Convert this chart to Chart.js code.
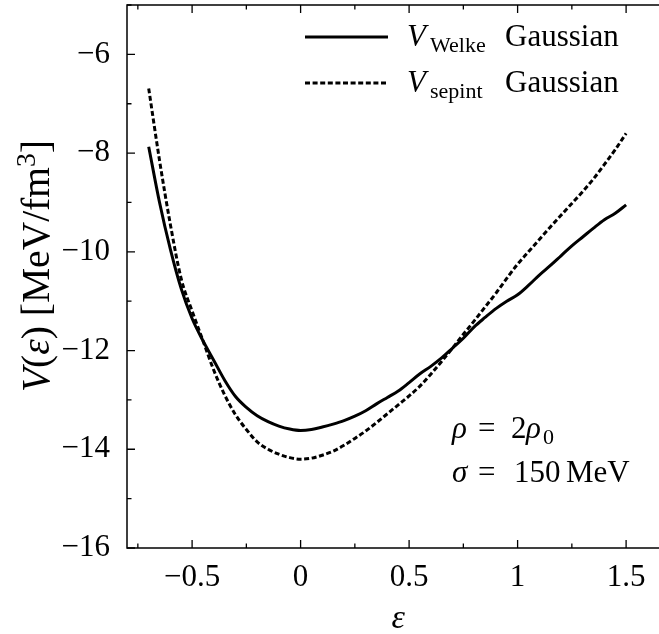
<!DOCTYPE html>
<html>
<head>
<meta charset="utf-8">
<script src="https://cdn.jsdelivr.net/npm/chart.js@4.4.1/dist/chart.umd.min.js"></script>
<style>
html,body{margin:0;padding:0;background:#fff;overflow:hidden;}
#wrap{width:672px;height:634px;}
</style>
</head>
<body>
<div id="wrap"><canvas id="c" width="672" height="634"></canvas></div>
<script>
// ---- data ----
const eps = [-0.7,-0.65,-0.6,-0.55,-0.5,-0.45,-0.4,-0.35,-0.3,-0.25,-0.2,-0.15,-0.1,-0.05,0,0.05,0.1,0.15,0.2,0.25,0.3,0.35,0.4,0.45,0.5,0.55,0.6,0.65,0.7,0.75,0.8,0.85,0.9,0.95,1.0,1.05,1.1,1.15,1.2,1.25,1.3,1.35,1.4,1.45,1.5];
const vWelke = [-7.87,-9.0,-9.95,-10.75,-11.35,-11.8,-12.2,-12.6,-12.93,-13.15,-13.32,-13.44,-13.53,-13.59,-13.62,-13.6,-13.55,-13.49,-13.42,-13.33,-13.22,-13.08,-12.95,-12.82,-12.65,-12.47,-12.32,-12.15,-11.95,-11.75,-11.52,-11.33,-11.15,-11.0,-10.87,-10.68,-10.47,-10.28,-10.08,-9.88,-9.7,-9.52,-9.35,-9.22,-9.05];
const vSepint = [-6.69,-8.15,-9.45,-10.55,-11.2,-11.8,-12.4,-12.9,-13.3,-13.6,-13.85,-14.0,-14.1,-14.17,-14.2,-14.18,-14.12,-14.04,-13.92,-13.78,-13.63,-13.46,-13.28,-13.1,-12.92,-12.72,-12.48,-12.22,-11.95,-11.67,-11.4,-11.12,-10.84,-10.54,-10.25,-10.0,-9.75,-9.5,-9.26,-9.02,-8.78,-8.52,-8.23,-7.93,-7.6];
const xTicks = [-0.5, 0, 0.5, 1, 1.5];
const xMinor = [-0.75, -0.25, 0.25, 0.75, 1.25];
const yTicks = [-16, -14, -12, -10, -8, -6];
const yMinor = [-15, -13, -11, -9, -7, -5];
const seriesNames = ['Welke', 'sepint'];

const SERIF = '"Liberation Serif", "DejaVu Serif", serif';
const FS = 31;

function fmt(v){ return (v < 0 ? '\u2212' : '') + String(Math.abs(v)); }

// runs: [{t, font, x (optional absolute), dy}]
function drawRuns(ctx, x, y, runs){
  let cx = x;
  for (const r of runs){
    if (r.x !== undefined) cx = r.x;
    ctx.font = r.font;
    ctx.fillText(r.t, cx, y + (r.dy || 0));
    cx += ctx.measureText(r.t).width;
  }
  return cx;
}
function runsWidth(ctx, runs){
  let w = 0;
  for (const r of runs){ ctx.font = r.font; w += ctx.measureText(r.t).width; }
  return w;
}

const framePlugin = {
  id: 'frame',
  afterDatasetsDraw(chart){
    const ctx = chart.ctx;
    const a = chart.chartArea;
    const xs = chart.scales.x, ys = chart.scales.y;
    ctx.save();
    ctx.strokeStyle = '#000';
    ctx.lineWidth = 1.5;
    ctx.strokeRect(a.left, a.top, a.right - a.left, a.bottom - a.top);
    ctx.lineWidth = 1.3;
    ctx.beginPath();
    const tick = (vals, len) => {
      for (const v of vals){
        const px = xs.getPixelForValue(v);
        ctx.moveTo(px, a.bottom); ctx.lineTo(px, a.bottom - len);
        ctx.moveTo(px, a.top); ctx.lineTo(px, a.top + len);
      }
    };
    tick(xTicks, 8); tick(xMinor, 4.5);
    const ytick = (vals, len) => {
      for (const v of vals){
        const py = ys.getPixelForValue(v);
        ctx.moveTo(a.left, py); ctx.lineTo(a.left + len, py);
        ctx.moveTo(a.right, py); ctx.lineTo(a.right - len, py);
      }
    };
    ytick(yTicks, 8); ytick(yMinor, 4.5);
    ctx.stroke();

    // legend
    ctx.fillStyle = '#000';
    ctx.textBaseline = 'alphabetic';
    ctx.lineWidth = 3;
    ctx.beginPath(); ctx.setLineDash([]);
    ctx.moveTo(305, 37); ctx.lineTo(388, 37); ctx.stroke();
    ctx.beginPath(); ctx.setLineDash([5, 2.6]);
    ctx.moveTo(305, 83); ctx.lineTo(388, 83); ctx.stroke();
    ctx.setLineDash([]);
    const it = 'italic ' + FS + 'px ' + SERIF;
    const rm = FS + 'px ' + SERIF;
    const sub = '22px ' + SERIF;
    drawRuns(ctx, 407, 46, [{t:'V', font:it},{t:seriesNames[0], font:sub, dy:6, x:430},{t:'Gaussian', font:rm, x:505}]);
    drawRuns(ctx, 407, 92, [{t:'V', font:it},{t:seriesNames[1], font:sub, dy:6, x:430},{t:'Gaussian', font:rm, x:505}]);

    // annotations
    drawRuns(ctx, 452, 438, [{t:'\u03C1', font:it},{t:'=', font:rm, x:478},{t:'2', font:rm, x:511},{t:'\u03C1', font:it, x:526},{t:'0', font:sub, dy:6, x:543}]);
    drawRuns(ctx, 452, 482, [{t:'\u03C3', font:it},{t:'=', font:rm, x:478},{t:'150', font:rm, x:514},{t:'MeV', font:rm, x:566}]);

    // x title
    ctx.font = 'italic 34px ' + SERIF;
    ctx.textAlign = 'center';
    ctx.fillText('\u03B5', (a.left + a.right) / 2, 628);
    ctx.textAlign = 'left';

    // y title (rotated), fitted to the span of the reference label
    const base = 100;
    const mk = s => [{t:'V', font:'italic '+s+'px '+SERIF},{t:'(', font:s+'px '+SERIF},{t:'\u03B5', font:'italic '+s+'px '+SERIF},{t:') [MeV/fm', font:s+'px '+SERIF},{t:'3', font:(s*0.7)+'px '+SERIF, dy:-s*0.36},{t:']', font:s+'px '+SERIF}];
    const w100 = runsWidth(ctx, mk(base));
    const s = base * 252 / w100;
    ctx.translate(49, 392);
    ctx.rotate(-Math.PI/2);
    drawRuns(ctx, 0, 0, mk(s));
    ctx.restore();
  }
};

new Chart(document.getElementById('c'), {
  type: 'line',
  data: {
    datasets: [
      { label: 'V_Welke Gaussian', data: eps.map((x,i)=>({x, y:vWelke[i]})),
        borderColor: '#000', borderWidth: 3, pointRadius: 0, fill: false,
        cubicInterpolationMode: 'monotone' },
      { label: 'V_sepint Gaussian', data: eps.map((x,i)=>({x, y:vSepint[i]})),
        borderColor: '#000', borderWidth: 3, borderDash: [5, 2.6], pointRadius: 0, fill: false,
        cubicInterpolationMode: 'monotone' }
    ]
  },
  options: {
    responsive: false,
    animation: false,
    layout: { padding: { top: 5, right: 2.5, left: 0, bottom: 0 } },
    plugins: { legend: { display: false }, tooltip: { enabled: false } },
    scales: {
      x: {
        type: 'linear', min: -0.8, max: 1.7,
        grid: { display: false, drawTicks: false },
        border: { display: false },
        afterBuildTicks: s => { s.ticks = xTicks.map(v => ({ value: v })); },
        afterFit: s => { s.height = 86; s.paddingLeft = 0; s.paddingRight = 0; s.paddingTop = 0; s.paddingBottom = 0; },
        ticks: { autoSkip: false, maxRotation: 0, color: '#000', padding: 11,
          font: { family: SERIF, size: FS }, callback: v => fmt(v) }
      },
      y: {
        type: 'linear', min: -16, max: -5,
        grid: { display: false, drawTicks: false },
        border: { display: false },
        afterBuildTicks: s => { s.ticks = yTicks.map(v => ({ value: v })); },
        afterFit: s => { s.width = 127; s.paddingTop = 0; s.paddingBottom = 0; s.paddingLeft = 0; s.paddingRight = 0; },
        ticks: { autoSkip: false, color: '#000', padding: 17,
          font: { family: SERIF, size: FS }, callback: v => fmt(v) }
      }
    }
  },
  plugins: [framePlugin]
});
</script>
</body>
</html>
